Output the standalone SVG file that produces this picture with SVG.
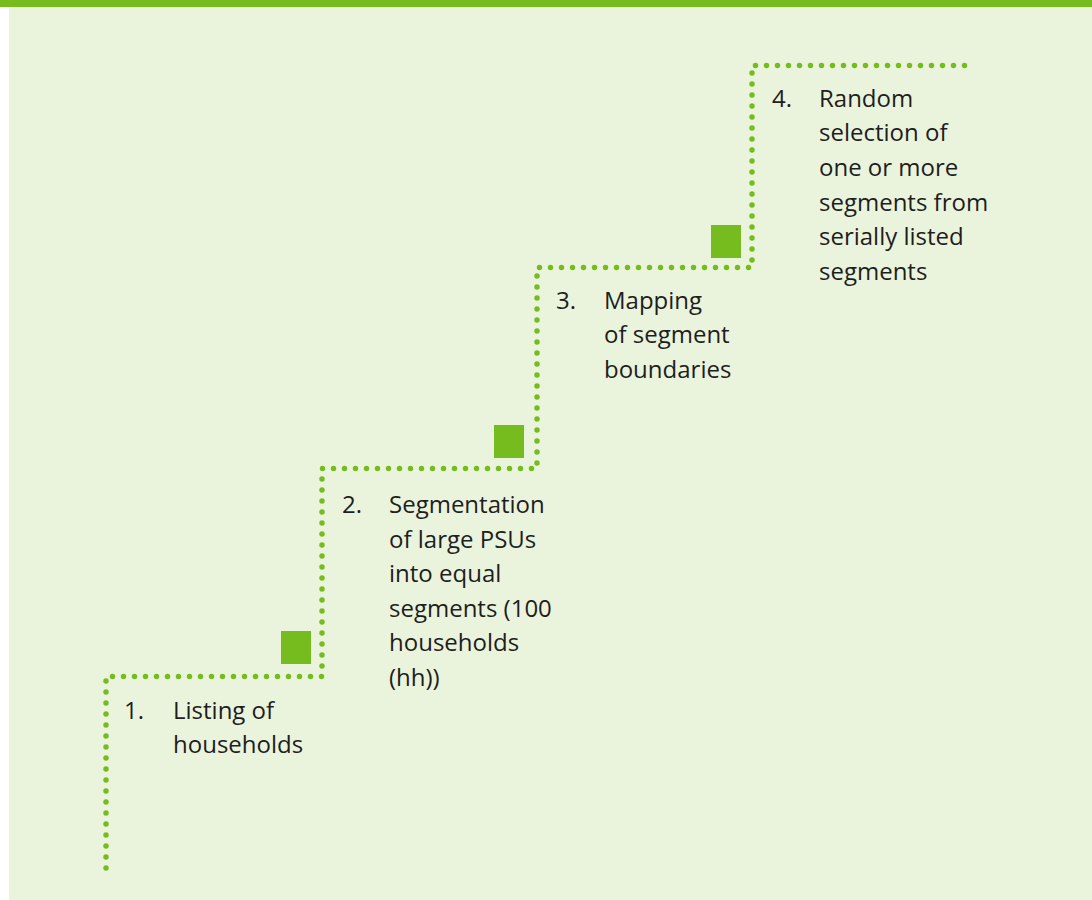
<svg xmlns="http://www.w3.org/2000/svg" width="1092" height="900" viewBox="0 0 1092 900">
  <style>
    .bg { fill: #eaf4dd; }
    .bar { fill: #77bc1f; }
    .sq { fill: #77bc1f; }
    .path { fill: none; stroke: #77bc1f; stroke-width: 5.5; stroke-linecap: round; stroke-dasharray: 0 11; }
    text { font-family: "Open Sans", "Noto Sans", sans-serif; font-size: 24px; fill: #1e1e1e; }
  </style>
  <rect x="0" y="0" width="1092" height="900" fill="#ffffff"/>
  <rect class="bg" x="9" y="7" width="1083" height="893"/>
  <rect class="bar" x="0" y="0" width="1092" height="7"/>
  <g id="connectors">
    <path class="path" d="M106 868 V676.5 H322 V468.5 H537 V267.5 H752 V65.5 H968"/>
  </g>
  <g id="step1">
    <rect class="sq" x="281" y="631" width="30" height="33"/>
    <text x="124" y="719">1.</text>
    <text x="173" y="719">Listing of</text>
    <text x="173" y="753">households</text>
  </g>
  <g id="step2">
    <rect class="sq" x="494" y="425" width="30" height="33"/>
    <text x="342" y="513">2.</text>
    <text x="389" y="513">Segmentation</text>
    <text x="389" y="548">of large PSUs</text>
    <text x="389" y="582">into equal</text>
    <text x="389" y="617">segments (100</text>
    <text x="389" y="651">households</text>
    <text x="389" y="686">(hh))</text>
  </g>
  <g id="step3">
    <rect class="sq" x="711" y="225" width="30" height="33"/>
    <text x="556" y="309">3.</text>
    <text x="604" y="309">Mapping</text>
    <text x="604" y="343">of segment</text>
    <text x="604" y="378">boundaries</text>
  </g>
  <g id="step4">
    <text x="772" y="107">4.</text>
    <text x="819" y="107">Random</text>
    <text x="819" y="141">selection of</text>
    <text x="819" y="176">one or more</text>
    <text x="819" y="211">segments from</text>
    <text x="819" y="245">serially listed</text>
    <text x="819" y="280">segments</text>
  </g>
</svg>
